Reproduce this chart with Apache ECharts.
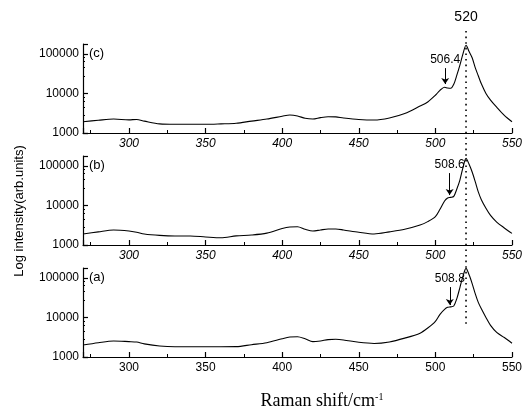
<!DOCTYPE html>
<html><head><meta charset="utf-8">
<script src="https://cdn.jsdelivr.net/npm/echarts@6/dist/echarts.min.js"></script>
<style>html,body{margin:0;padding:0;background:#fff}#c{width:525px;height:413px}</style>
</head><body><div id="c"></div>
<script>
// Raman shift (cm^-1)
const shifts = [270,280,290,300,305,310,320,330,340,350,360,370,380,390,400,405,410,415,420,425,430,435,440,450,460,470,480,490,495,500,503,506,508,510,512,514,516,518,520,522,524,526,528,530,533,536,540,545,550];
// panel (c)
const intensityC = [1930,2100,2250,2150,2200,2000,1700,1660,1660,1660,1700,1760,2000,2250,2650,2850,2700,2350,2250,2450,2580,2550,2400,2200,2130,2400,3100,4800,6100,9000,12000,14300,13700,13500,17000,29000,52000,100000,165000,115000,80000,45000,28000,17500,10000,6800,4500,2800,1930];
// panel (b)
const intensityB = [1900,2150,2390,2260,2100,1900,1750,1690,1690,1600,1530,1700,1790,2000,2600,2850,2900,2500,2260,2400,2540,2540,2400,2100,1900,2150,2500,3200,3900,5200,8000,13000,15500,16000,17000,26000,43900,90000,155000,110000,70000,40000,22000,14000,8500,5600,3800,2700,1970];
// panel (a)
const intensityA = [2010,2300,2540,2450,2390,2150,1900,1820,1820,1820,1820,1830,2050,2300,2900,3200,3260,2900,2450,2550,2750,2800,2700,2350,2200,2400,3000,4000,5400,8000,12000,16000,18000,18500,19500,30000,57000,110000,174000,120000,72000,40000,24000,16500,10000,6300,4200,3100,2220];

const panelLabels = ['(c)', '(b)', '(a)'];
const shoulderLabels = ['506.4', '508.6', '508.8'];
const shoulderPos = [506.4, 509.3, 509.4];
const arrowFrom = [43700, 65800, 58600];
const arrowTo = [17300, 18300, 20600];
const siPeak = 520;
const siPeakLabel = '520';
const yMin = 1000, yMax = 178000, xMin = 270, xMax = 550;
const yName = 'Log intensity(arb.units)';

const seriesData = [intensityC, intensityB, intensityA];
const tops = [44, 156, 268];
const italic = ['italic', 'italic', 'normal'];
const FONT = 'Liberation Sans';

const chart = echarts.init(document.getElementById('c'), null, {renderer: 'canvas'});
const axisLineStyle = {color: '#000', width: 1.2};
const option = {
  animation: false,
  backgroundColor: '#fff',
  grid: tops.map(t => ({left: 83, width: 429, top: t, height: 89})),
  xAxis: tops.map((t, i) => ({
    type: 'value', gridIndex: i, min: xMin, max: xMax,
    axisLine: {show: true, onZero: false, lineStyle: axisLineStyle},
    axisTick: {show: true, inside: true, length: 5, lineStyle: axisLineStyle},
    minorTick: {show: true, splitNumber: 2, length: 3, lineStyle: {color: '#000', width: 1}},
    axisLabel: {showMinLabel: false, color: '#000', fontSize: 12, fontFamily: FONT, fontStyle: italic[i], margin: 5},
    splitLine: {show: false}
  })),
  yAxis: tops.map((t, i) => ({
    type: 'log', logBase: 10, gridIndex: i, min: yMin, max: yMax,
    axisLine: {show: true, lineStyle: axisLineStyle},
    axisTick: {show: true, inside: true, length: 5, lineStyle: axisLineStyle},
    minorTick: {show: true, splitNumber: 5, length: 2, lineStyle: {color: '#000', width: 1}},
    axisLabel: {
      color: '#000', fontSize: 12, fontFamily: FONT, margin: 4,
      formatter: v => {
        const l = Math.log10(v);
        return Math.abs(l - Math.round(l)) < 1e-6 ? String(Math.round(v)) : '';
      }
    },
    splitLine: {show: false}
  })),
  series: seriesData.map((d, i) => ({
    type: 'line', xAxisIndex: i, yAxisIndex: i,
    data: shifts.map((x, k) => [x, d[k]]),
    showSymbol: false, smooth: 0.3,
    lineStyle: {color: '#000', width: 1.1},
    markLine: {
      silent: true, symbol: ['none', 'arrow'], symbolSize: 6,
      lineStyle: {color: '#000', width: 1, type: 'solid'},
      label: {show: true, position: 'start', formatter: shoulderLabels[i], color: '#000', fontSize: 12, fontFamily: FONT, distance: 2},
      data: [[{coord: [shoulderPos[i], arrowFrom[i]]}, {coord: [shoulderPos[i], arrowTo[i]]}]]
    }
  }))
};
chart.setOption(option);

const px = chart.convertToPixel({xAxisIndex: 0}, siPeak);
const graphics = [
  {type: 'line', shape: {x1: px, y1: 31, x2: px, y2: 327}, style: {stroke: '#000', lineWidth: 1.6, lineDash: [1.6, 4]}, silent: true},
  {type: 'text', x: px, y: 17, style: {text: siPeakLabel, font: '14px ' + FONT, fill: '#000', textAlign: 'center', textVerticalAlign: 'middle', align: 'center', verticalAlign: 'middle'}},
  {type: 'text', x: 19, y: 211, rotation: Math.PI / 2, style: {text: yName, font: '13px ' + FONT, fill: '#000', textAlign: 'center', textVerticalAlign: 'middle', align: 'center', verticalAlign: 'middle'}},
  {type: 'text', x: 322, y: 401, style: {
    text: '{a|Raman shift/cm}{b|-1}', fill: '#000', textAlign: 'center', textVerticalAlign: 'middle', align: 'center', verticalAlign: 'middle',
    rich: {a: {fontFamily: 'Liberation Serif', fontSize: 18, fill: '#000', color: '#000'}, b: {fontFamily: 'Liberation Serif', fontSize: 10, verticalAlign: 'top', fill: '#000', color: '#000', padding: [0, 0, 8, 0]}}
  }}
];
panelLabels.forEach((t, i) => {
  graphics.push({type: 'text', x: 89, y: tops[i] + 9, style: {text: t, font: '13px ' + FONT, fill: '#000', textAlign: 'left', textVerticalAlign: 'middle', align: 'left', verticalAlign: 'middle'}});
});
chart.setOption({graphic: graphics});
</script>
</body></html>
